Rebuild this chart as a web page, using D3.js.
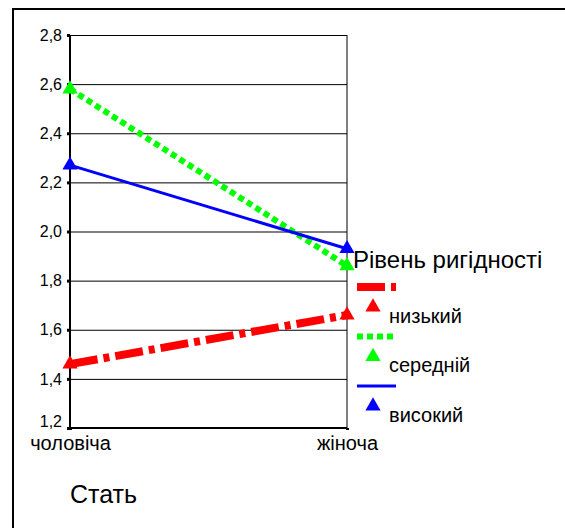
<!DOCTYPE html>
<html>
<head>
<meta charset="utf-8">
<script src="https://cdn.jsdelivr.net/npm/d3@7"></script>
<style>
  html, body { margin: 0; padding: 0; background: #fff; }
  svg { display: block; }
  text { font-family: "Liberation Sans", Arial, sans-serif; fill: #000; }
</style>
</head>
<body>
<svg id="chart" width="565" height="528"></svg>
<script>
// Стать (x categories)
const categories = ["чоловіча", "жіноча"];
// Рівень ригідності series
const seriesNames = ["низький", "середній", "високий"];
const lowValues = [1.46, 1.66];
const midValues = [2.58, 1.86];
const highValues = [2.27, 1.93];
// y axis ticks
const yTicks = [1.2, 1.4, 1.6, 1.8, 2.0, 2.2, 2.4, 2.6, 2.8];
const yTickLabels = ["1,2", "1,4", "1,6", "1,8", "2,0", "2,2", "2,4", "2,6", "2,8"];
const legendTitle = "Рівень ригідності";
const xTitle = "Стать";

const series = [
  { name: seriesNames[0], values: lowValues,  color: "#ff0000", width: 8, dash: "28,6,6,6" },
  { name: seriesNames[1], values: midValues,  color: "#00ff00", width: 6, dash: "6,4" },
  { name: seriesNames[2], values: highValues, color: "#0000ff", width: 3, dash: null }
];

const svg = d3.select("#chart");

// outer frame
svg.append("rect")
  .attr("x", 13).attr("y", 9)
  .attr("width", 600).attr("height", 600)
  .attr("fill", "none").attr("stroke", "#000").attr("stroke-width", 2);

const plot = { left: 70, right: 347, top: 35, bottom: 428 };

const x = d3.scalePoint().domain(categories).range([plot.left, plot.right]).padding(0);
const y = d3.scaleLinear().domain([1.2, 2.8]).range([plot.bottom, plot.top]);

// horizontal grid
svg.append("g")
  .attr("transform", `translate(${plot.left},0)`)
  .call(d3.axisLeft(y).tickValues(yTicks).tickSize(-(plot.right - plot.left)).tickFormat(""))
  .call(g => g.select(".domain").remove())
  .call(g => g.selectAll(".tick line").attr("stroke", "#000").attr("stroke-width", 1));

// right edge of plot area
svg.append("line")
  .attr("x1", plot.right).attr("x2", plot.right)
  .attr("y1", plot.top).attr("y2", plot.bottom)
  .attr("stroke", "#000").attr("stroke-width", 1);

// y axis
const yAxis = svg.append("g")
  .attr("transform", `translate(${plot.left},0)`)
  .call(d3.axisLeft(y).tickValues(yTicks).tickSize(3).tickPadding(5)
    .tickFormat((d, i) => yTickLabels[i]));
yAxis.select(".domain").attr("stroke", "#000").attr("stroke-width", 2).attr("d", `M0,${plot.top}V${plot.bottom}`);
yAxis.selectAll(".tick line").attr("stroke", "#000").attr("stroke-width", 3);
yAxis.selectAll(".tick text")
  .style("font-size", "16px")
  .attr("dy", (d, i) => i === 0 ? "-0.1em" : "0.32em");

// x axis
const xAxis = svg.append("g")
  .attr("transform", `translate(0,${plot.bottom})`)
  .call(d3.axisBottom(x).tickSize(2).tickPadding(6));
xAxis.select(".domain").attr("stroke", "#000").attr("stroke-width", 2).attr("d", `M${plot.left},0H${plot.right}`);
xAxis.selectAll(".tick line").attr("stroke", "#000").attr("stroke-width", 3);
xAxis.selectAll(".tick text").style("font-size", "20px").attr("dy", "0.7em");

// x title
svg.append("text").attr("x", 70).attr("y", 503)
  .style("font-size", "25px").text(xTitle);

const line = d3.line().x((d, i) => x(categories[i])).y(d => y(d));
const tri = d3.symbol().type(d3.symbolTriangle).size(100);

series.forEach(s => {
  svg.append("path")
    .attr("d", line(s.values))
    .attr("fill", "none")
    .attr("stroke", s.color)
    .attr("stroke-width", s.width)
    .attr("stroke-dasharray", s.dash);
  svg.selectAll(null).data(s.values).enter().append("path")
    .attr("d", tri)
    .attr("transform", (d, i) => `translate(${x(categories[i])},${y(d)})`)
    .attr("fill", s.color);
});

// legend
const legend = svg.append("g");
legend.append("text").attr("x", 353).attr("y", 268).style("font-size", "24px").text(legendTitle);
series.forEach((s, i) => {
  const oy = i * 49.5;
  legend.append("line")
    .attr("x1", 357).attr("x2", 396)
    .attr("y1", 287 + oy).attr("y2", 287 + oy)
    .attr("stroke", s.color).attr("stroke-width", s.width)
    .attr("stroke-dasharray", s.dash);
  legend.append("path").attr("d", tri)
    .attr("transform", `translate(373,${307 + oy})`).attr("fill", s.color);
  legend.append("text").attr("x", 389).attr("y", 322.5 + oy)
    .style("font-size", "20px").text(s.name);
});
</script>
</body>
</html>
